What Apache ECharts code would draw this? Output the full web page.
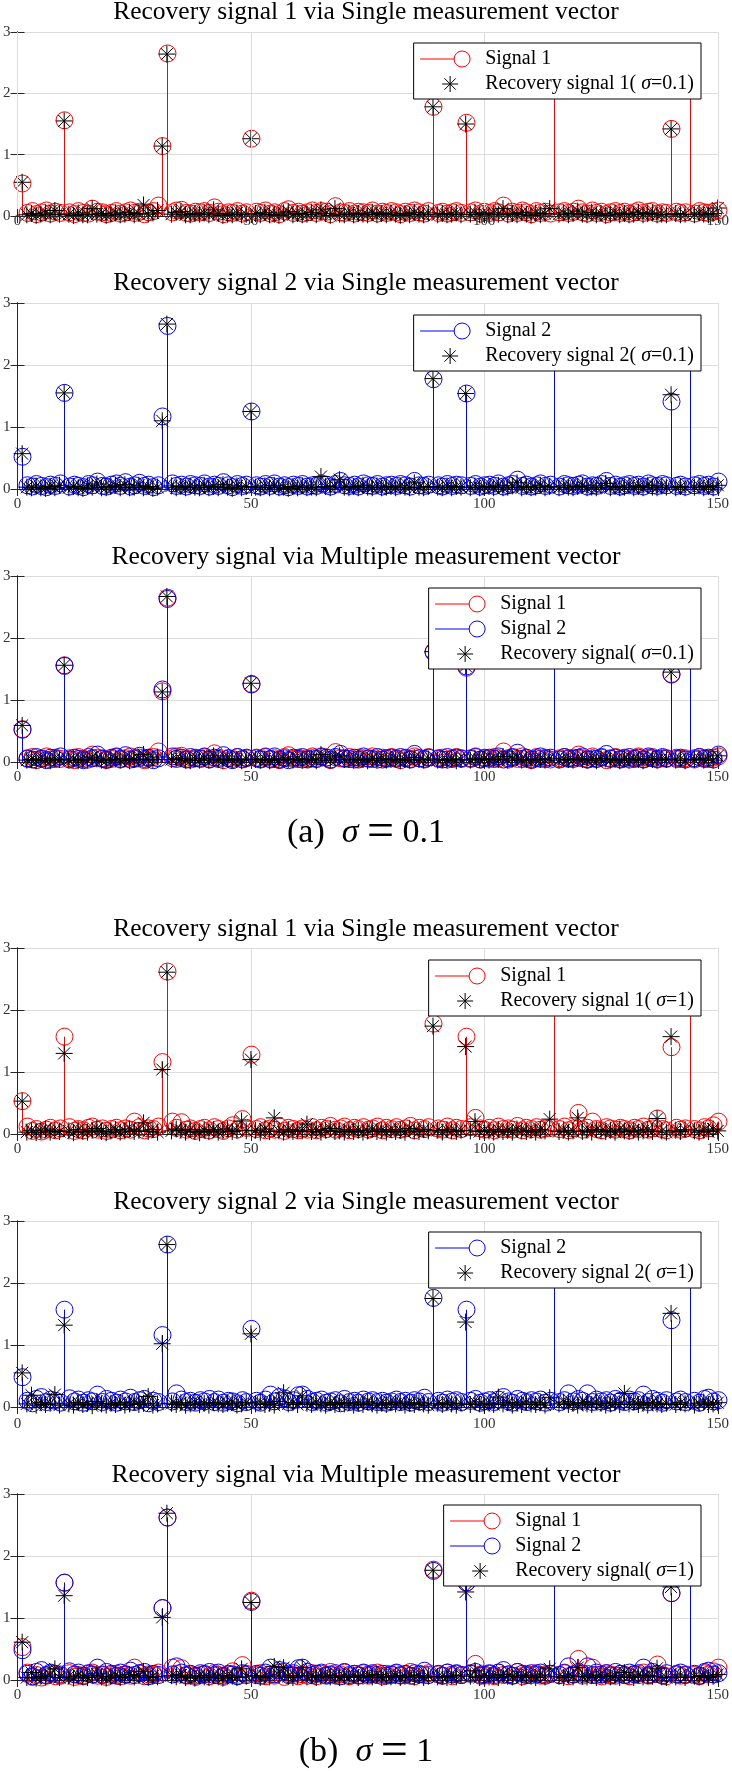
<!DOCTYPE html>
<html><head><meta charset="utf-8">
<script src="https://cdn.jsdelivr.net/npm/echarts@6/dist/echarts.min.js"></script>
<style>html,body{margin:0;padding:0;background:#fff}#c{width:732px;height:1771px}</style>
</head><body><div id="c"></div>
<script>
// ---------- data ----------
const xTicks = [0, 50, 100, 150];
const yTicks = [0, 1, 2, 3];
const panelTitles = [
  'Recovery signal 1 via Single measurement vector',
  'Recovery signal 2 via Single measurement vector',
  'Recovery signal via Multiple measurement vector',
  'Recovery signal 1 via Single measurement vector',
  'Recovery signal 2 via Single measurement vector',
  'Recovery signal via Multiple measurement vector'
];
const captionLabels = ['(a)', '(b)'];
const sigmaLabels = ['0.1', '1'];

// sigma = 0.1
const sig1_a = [
 .53,.05,.08,.03,.06,.09,.04,.07,.05,1.56,
 .06,.03,.08,.05,.04,.12,.07,.06,.03,.05,
 .08,.04,.06,.09,.05,.07,.03,.06,.08,.17,
 1.14,2.65,.06,.09,.10,.05,.04,.07,.06,.08,
 .05,.14,.07,.03,.06,.05,.08,.04,.06,1.26,
 .07,.05,.09,.04,.06,.03,.08,.11,.05,.07,
 .04,.06,.09,.05,.08,.07,.03,.16,.06,.05,
 .08,.04,.07,.06,.05,.09,.04,.07,.05,.08,
 .06,.03,.07,.05,.09,.06,.04,.08,1.78,.05,
 .07,.04,.06,.08,.05,1.52,.06,.09,.04,.07,
 .05,.08,.06,.17,.04,.07,.05,.09,.06,.03,
 .08,.05,.07,.04,2.30,.06,.08,.05,.07,.12,
 .06,.04,.09,.05,.07,.03,.06,.08,.05,.07,
 .04,.06,.09,.05,.07,.08,.04,.06,.05,1.42,
 .07,.05,.06,2.30,.04,.08,.06,.05,.07,.09
];
const rec1_a = [
 .55,.02,.04,.01,.03,.05,.02,.09,.03,1.55,
 .03,.01,.05,.02,.02,.12,.03,.04,.01,.03,
 .05,.02,.03,.06,.02,.04,.18,.03,.05,.09,
 1.14,2.64,.03,.06,.07,.02,.02,.04,.03,.05,
 .02,.10,.04,.01,.03,.02,.05,.02,.03,1.26,
 .04,.02,.06,.02,.03,.01,.05,.07,.02,.04,
 .02,.03,.06,.02,.10,.04,.01,.12,.03,.02,
 .05,.02,.04,.03,.02,.06,.02,.04,.02,.05,
 .03,.01,.04,.02,.06,.03,.02,.05,1.78,.02,
 .04,.02,.03,.05,.02,1.50,.03,.06,.02,.04,
 .02,.05,.03,.12,.02,.04,.02,.06,.03,.01,
 .05,.02,.04,.12,2.30,.03,.05,.02,.04,.08,
 .03,.02,.06,.02,.04,.01,.03,.05,.02,.04,
 .02,.03,.06,.02,.04,.05,.02,.03,.02,1.42,
 .04,.02,.03,2.30,.02,.05,.03,.02,.04,.13
];
const sig2_a = [
 .52,.06,.04,.08,.05,.03,.07,.05,.09,1.55,
 .04,.07,.05,.03,.08,.06,.12,.05,.04,.07,
 .09,.05,.11,.04,.06,.10,.05,.07,.03,.06,
 1.17,2.63,.09,.05,.07,.04,.08,.06,.05,.09,
 .04,.07,.05,.11,.06,.03,.08,.05,.07,1.25,
 .06,.04,.08,.05,.09,.04,.06,.03,.07,.05,
 .08,.04,.06,.05,.09,.07,.04,.08,.13,.06,
 .05,.07,.04,.09,.06,.05,.08,.04,.06,.07,
 .05,.08,.06,.04,.13,.06,.05,.07,1.77,.06,
 .04,.08,.05,.07,.06,1.54,.05,.08,.04,.06,
 .07,.05,.09,.04,.06,.08,.15,.05,.07,.04,
 .06,.09,.05,.07,2.30,.04,.08,.06,.05,.07,
 .09,.04,.06,.05,.08,.13,.05,.07,.04,.06,
 .08,.05,.07,.04,.09,.06,.05,.08,.06,1.41,
 .05,.07,.04,2.30,.06,.08,.05,.07,.04,.12
];
const rec2_a = [
 .57,.03,.02,.05,.02,.01,.04,.02,.06,1.55,
 .02,.04,.02,.01,.05,.03,.08,.02,.02,.04,
 .06,.02,.07,.02,.03,.06,.02,.04,.01,.03,
 1.10,2.66,.05,.02,.04,.02,.05,.03,.02,.06,
 .02,.04,.02,.07,.03,.01,.05,.02,.04,1.25,
 .03,.02,.05,.02,.06,.02,.03,.01,.04,.02,
 .05,.02,.03,.02,.20,.04,.02,.05,.15,.03,
 .02,.04,.02,.06,.03,.02,.05,.02,.03,.04,
 .02,.05,.03,.02,.10,.03,.02,.04,1.78,.03,
 .02,.05,.02,.04,.03,1.54,.02,.05,.02,.03,
 .04,.02,.06,.02,.03,.05,.10,.02,.04,.02,
 .03,.06,.02,.04,2.30,.02,.05,.03,.02,.04,
 .06,.02,.03,.02,.05,.09,.02,.04,.02,.03,
 .05,.02,.04,.02,.06,.03,.02,.05,.03,1.52,
 .02,.04,.02,2.30,.03,.05,.02,.04,.02,.06
];
const recm_a = [
 .59,.03,.04,.02,.05,.03,.02,.06,.04,1.56,
 .03,.05,.02,.04,.03,.08,.05,.03,.02,.04,
 .05,.03,.06,.02,.04,.05,.12,.03,.04,.08,
 1.13,2.67,.04,.06,.05,.03,.02,.05,.03,.06,
 .03,.10,.04,.02,.05,.03,.04,.02,.05,1.27,
 .04,.03,.05,.02,.04,.03,.06,.04,.03,.05,
 .03,.04,.05,.02,.12,.05,.03,.08,.10,.04,
 .04,.03,.05,.04,.02,.06,.03,.05,.03,.04,
 .05,.02,.04,.03,.07,.04,.03,.05,1.78,.03,
 .04,.03,.05,.02,.04,1.55,.03,.06,.04,.05,
 .03,.05,.04,.09,.03,.05,.08,.03,.04,.02,
 .05,.04,.03,.06,2.30,.03,.05,.04,.03,.06,
 .04,.03,.05,.02,.06,.05,.03,.04,.02,.05,
 .03,.05,.04,.02,.05,.04,.03,.06,.04,1.45,
 .03,.05,.02,2.30,.04,.06,.03,.05,.03,.10
];

// sigma = 1
const sig1_b = [
 .53,.12,.05,.08,.04,.07,.10,.06,.09,1.57,
 .11,.05,.08,.06,.10,.12,.07,.09,.05,.08,
 .10,.06,.09,.07,.20,.11,.06,.09,.08,.12,
 1.16,2.62,.20,.10,.19,.07,.09,.05,.08,.10,
 .06,.11,.08,.05,.09,.14,.07,.24,.10,1.28,
 .08,.11,.06,.09,.07,.12,.05,.10,.08,.06,
 .09,.07,.11,.06,.10,.08,.13,.07,.09,.12,
 .06,.10,.08,.11,.07,.09,.12,.06,.10,.08,
 .11,.07,.09,.13,.06,.10,.08,.11,1.78,.09,
 .07,.12,.06,.10,.08,1.57,.11,.26,.09,.07,
 .10,.06,.12,.08,.09,.07,.13,.06,.10,.08,
 .11,.07,.09,.10,2.30,.08,.12,.06,.09,.34,
 .07,.10,.20,.08,.06,.11,.09,.07,.10,.08,
 .06,.10,.08,.12,.07,.09,.25,.08,.06,1.40,
 .10,.07,.09,2.30,.08,.06,.11,.09,.14,.20
];
const rec1_b = [
 .53,.03,.06,.02,.05,.08,.03,.06,.04,1.30,
 .05,.02,.07,.04,.03,.06,.09,.04,.02,.05,
 .07,.03,.05,.08,.04,.06,.18,.04,.07,.03,
 1.04,2.61,.05,.08,.06,.03,.07,.04,.02,.06,
 .04,.07,.03,.05,.08,.04,.06,.21,.05,1.20,
 .06,.03,.08,.04,.26,.05,.03,.07,.04,.06,
 .05,.16,.04,.07,.03,.06,.09,.04,.05,.03,
 .07,.04,.06,.03,.05,.08,.04,.06,.03,.07,
 .04,.06,.03,.09,.05,.04,.07,.05,1.74,.06,
 .03,.07,.05,.04,.06,1.41,.05,.20,.04,.06,
 .05,.03,.07,.04,.06,.03,.08,.05,.04,.06,
 .03,.07,.05,.24,2.30,.04,.06,.03,.05,.26,
 .04,.06,.03,.07,.05,.04,.06,.03,.08,.05,
 .04,.06,.03,.05,.07,.04,.25,.05,.03,1.57,
 .06,.04,.07,2.30,.05,.03,.06,.04,.08,.05
];
const sig2_b = [
 .48,.10,.06,.13,.16,.08,.12,.10,.07,1.57,
 .14,.09,.12,.07,.11,.09,.20,.08,.13,.10,
 .07,.12,.09,.15,.08,.11,.13,.06,.10,.08,
 1.16,2.62,.09,.22,.12,.08,.10,.07,.11,.09,
 .13,.08,.12,.07,.10,.09,.06,.11,.08,1.26,
 .10,.07,.12,.20,.09,.16,.14,.08,.11,.19,
 .20,.13,.08,.10,.12,.07,.09,.11,.06,.13,
 .08,.10,.07,.12,.09,.11,.08,.10,.07,.09,
 .12,.08,.10,.07,.11,.09,.15,.08,1.76,.10,
 .07,.12,.09,.11,.08,1.57,.10,.13,.07,.09,
 .11,.08,.12,.16,.09,.07,.13,.10,.08,.11,
 .09,.12,.07,.10,2.30,.08,.11,.22,.09,.13,
 .10,.22,.08,.12,.09,.11,.07,.13,.10,.08,
 .12,.09,.11,.20,.08,.13,.10,.07,.11,1.40,
 .09,.12,.08,2.30,.10,.07,.13,.15,.09,.11
];
const rec2_b = [
 .55,.05,.19,.03,.07,.04,.06,.20,.03,1.32,
 .05,.03,.07,.04,.06,.02,.09,.05,.03,.06,
 .04,.07,.03,.05,.08,.04,.06,.17,.03,.05,
 1.02,2.62,.06,.04,.07,.03,.05,.08,.04,.06,
 .03,.07,.05,.04,.06,.08,.03,.05,.07,1.18,
 .05,.08,.04,.06,.03,.09,.23,.05,.07,.04,
 .18,.06,.04,.08,.05,.03,.07,.04,.06,.05,
 .07,.03,.06,.04,.08,.05,.03,.06,.04,.07,
 .05,.08,.03,.06,.04,.07,.05,.03,1.75,.06,
 .04,.07,.05,.03,.06,1.37,.04,.08,.05,.03,
 .06,.04,.16,.05,.07,.03,.06,.04,.08,.05,
 .04,.07,.03,.15,2.30,.05,.08,.04,.06,.03,
 .07,.05,.04,.08,.06,.03,.05,.07,.04,.22,
 .05,.08,.04,.06,.03,.07,.05,.04,.06,1.51,
 .04,.07,.05,2.30,.03,.06,.08,.04,.05,.07
];
const recm_b = [
 .61,.04,.12,.03,.06,.05,.08,.18,.04,1.36,
 .06,.03,.08,.05,.04,.07,.10,.05,.03,.06,
 .08,.04,.06,.09,.05,.07,.14,.04,.06,.05,
 1.01,2.69,.07,.05,.08,.04,.06,.03,.07,.05,
 .04,.08,.05,.03,.07,.06,.04,.18,.06,1.25,
 .07,.04,.06,.05,.22,.08,.20,.06,.04,.07,
 .20,.05,.07,.04,.06,.08,.05,.07,.04,.06,
 .05,.08,.04,.06,.07,.05,.09,.04,.06,.05,
 .07,.04,.06,.08,.05,.07,.04,.06,1.77,.05,
 .06,.04,.07,.05,.08,1.42,.06,.15,.04,.07,
 .05,.07,.04,.09,.06,.05,.08,.04,.07,.06,
 .04,.08,.05,.18,2.30,.06,.04,.07,.05,.20,
 .06,.05,.07,.04,.08,.06,.05,.07,.04,.12,
 .06,.04,.08,.05,.07,.06,.19,.05,.04,1.50,
 .05,.08,.04,2.30,.06,.05,.07,.04,.06,.09
];

// ---------- layout / style ----------
const FONT = 'Liberation Serif';
const RED = '#ff0000', BLUE = '#0000ff', BLACK = '#000000';
const gridTops = [32, 303, 576, 948, 1221, 1494];
const gridHeights = [184, 186, 186, 186, 186, 186];
const titleY = [12.5, 283.5, 557, 929, 1202.5, 1475];
const legendTops = [43, 315, 588, 960, 1232, 1505];
const xLabelMargin = [-2, 8, 8, 8, 10, 8];
const captionY = [833, 1752];

const panels = [
  {stems: [['Signal 1', sig1_a, RED]], stars: [['Recovery signal 1( σ=0.1)', rec1_a]]},
  {stems: [['Signal 2', sig2_a, BLUE]], stars: [['Recovery signal 2( σ=0.1)', rec2_a]]},
  {stems: [['Signal 1', sig1_a, RED], ['Signal 2', sig2_a, BLUE]], stars: [['Recovery signal( σ=0.1)', recm_a]]},
  {stems: [['Signal 1', sig1_b, RED]], stars: [['Recovery signal 1( σ=1)', rec1_b]]},
  {stems: [['Signal 2', sig2_b, BLUE]], stars: [['Recovery signal 2( σ=1)', rec2_b]]},
  {stems: [['Signal 1', sig1_b, RED], ['Signal 2', sig2_b, BLUE]], stars: [['Recovery signal( σ=1)', recm_b]]}
];

const STAR_SYMBOL = 'path://M8,0L8,16M0,8L16,8M2.34,2.34L13.66,13.66M2.34,13.66L13.66,2.34';
const STEM_ICON = 'path://M0,0M0,8L34,8M50,8A8,8,0,1,1,34,8A8,8,0,1,1,50,8M60,16';
const STAR_ICON = 'path://M0,0M30,0L30,16M22,8L38,8M24.34,2.34L35.66,13.66M24.34,13.66L35.66,2.34M60,16';

function stemRender(color) {
  return function (params, api) {
    const x = api.value(0), y = api.value(1);
    const p0 = api.coord([x, 0]), p1 = api.coord([x, y]);
    const px = Math.round(p1[0]) + 0.5;
    return {
      type: 'group',
      children: [
        {type: 'line', shape: {x1: px, y1: p0[1], x2: px, y2: p1[1]}, style: {stroke: color, lineWidth: 1}},
        {type: 'circle', shape: {cx: px, cy: p1[1], r: 8.5}, style: {fill: 'rgba(0,0,0,0)', stroke: color, lineWidth: 1}}
      ]
    };
  };
}

const grid = [], xAxis = [], yAxis = [], series = [], legend = [], graphic = [];
const axisLineStyle = {color: '#262626', width: 1};
panels.forEach((p, i) => {
  grid.push({left: 17, right: 14, top: gridTops[i], height: gridHeights[i], show: false});
  xAxis.push({
    type: 'value', gridIndex: i, min: xTicks[0], max: xTicks[xTicks.length - 1], interval: xTicks[1] - xTicks[0],
    z: i === 0 ? 5 : 0,
    axisLine: {show: true, lineStyle: axisLineStyle},
    axisTick: {show: true, inside: true, length: 7, lineStyle: axisLineStyle},
    axisLabel: {show: true, margin: xLabelMargin[i], color: '#333', fontFamily: FONT, fontSize: 15},
    splitLine: {show: true, lineStyle: {color: '#dcdcdc', width: 1}}
  });
  xAxis.push({
    type: 'value', gridIndex: i, position: 'top', min: xTicks[0], max: xTicks[xTicks.length - 1], interval: xTicks[1] - xTicks[0],
    axisLine: {show: true, lineStyle: axisLineStyle},
    axisTick: {show: true, inside: true, length: 7, lineStyle: axisLineStyle},
    axisLabel: {show: false}, splitLine: {show: false}
  });
  yAxis.push({
    type: 'value', gridIndex: i, min: yTicks[0], max: yTicks[yTicks.length - 1], interval: yTicks[1] - yTicks[0],
    axisLine: {show: true, lineStyle: axisLineStyle},
    axisTick: {show: true, inside: true, length: 7, lineStyle: axisLineStyle},
    axisLabel: {show: true, margin: 7, color: '#333', fontFamily: FONT, fontSize: 15},
    splitLine: {show: true, lineStyle: {color: '#dcdcdc', width: 1}}
  });
  yAxis.push({
    type: 'value', gridIndex: i, position: 'right', min: yTicks[0], max: yTicks[yTicks.length - 1], interval: yTicks[1] - yTicks[0],
    axisLine: {show: true, lineStyle: axisLineStyle},
    axisTick: {show: true, inside: true, length: 7, lineStyle: axisLineStyle},
    axisLabel: {show: false}, splitLine: {show: false}
  });
  const legendData = [];
  p.stems.forEach(([name, arr, color]) => {
    series.push({
      type: 'custom', name: name, xAxisIndex: 2 * i, yAxisIndex: 2 * i, clip: false,
      itemStyle: {color: color}, renderItem: stemRender(color),
      data: arr.map((v, k) => [k + 1, v]), z: 2
    });
    legendData.push({name: name, icon: STEM_ICON, itemStyle: {color: 'rgba(0,0,0,0)', borderColor: color, borderWidth: 1}});
  });
  p.stars.forEach(([name, arr]) => {
    series.push({
      type: 'scatter', name: name, xAxisIndex: 2 * i, yAxisIndex: 2 * i, clip: false,
      symbol: STAR_SYMBOL, symbolSize: 17,
      itemStyle: {color: 'rgba(0,0,0,0)', borderColor: BLACK, borderWidth: 1, opacity: 1},
      data: arr.map((v, k) => [k + 1, v]), z: 3, silent: true
    });
    legendData.push({name: name, icon: STAR_ICON, itemStyle: {color: 'rgba(0,0,0,0)', borderColor: BLACK, borderWidth: 1}});
  });
  legend.push({
    orient: 'vertical', right: 31, top: legendTops[i], align: 'left',
    itemWidth: 60, itemHeight: 16, itemGap: 5, padding: [6, 7, 5, 6],
    backgroundColor: '#fff', borderColor: '#000', borderWidth: 1, borderRadius: 0,
    selectedMode: false, symbolKeepAspect: true,
    textStyle: {fontFamily: FONT, fontSize: 20, color: '#000', lineHeight: 20,
      rich: {i: {fontFamily: FONT, fontSize: 20, fontStyle: 'italic', color: '#000', lineHeight: 20}}},
    formatter: n => n.replace('σ', '{i|σ}'),
    data: legendData, z: 10
  });
  graphic.push({
    type: 'text', x: 366, y: titleY[i], silent: true,
    style: {text: panelTitles[i], fontFamily: FONT, fontSize: 25.5, fill: '#000',
      align: 'center', verticalAlign: 'middle', textAlign: 'center', textVerticalAlign: 'middle'}
  });
});
captionLabels.forEach((lab, j) => {
  graphic.push({
    type: 'text', x: 366, y: captionY[j], silent: true,
    style: {
      text: '{n|' + lab + '}  {s|σ} {e|=} {n|' + sigmaLabels[j] + '}',
      align: 'center', verticalAlign: 'middle', textAlign: 'center', textVerticalAlign: 'middle',
      fontFamily: FONT, fontSize: 34, fill: '#000',
      rich: {
        n: {fontFamily: FONT, fontSize: 34, fill: '#000', color: '#000'},
        s: {fontFamily: FONT, fontSize: 34, fontStyle: 'italic', fill: '#000', color: '#000'},
        e: {fontFamily: FONT, fontSize: 48, fill: '#000', color: '#000'}
      }
    }
  });
});

const chart = echarts.init(document.getElementById('c'), null, {renderer: 'canvas'});
chart.setOption({
  backgroundColor: '#ffffff', animation: false,
  grid, xAxis, yAxis, series, legend, graphic
});
</script></body></html>
